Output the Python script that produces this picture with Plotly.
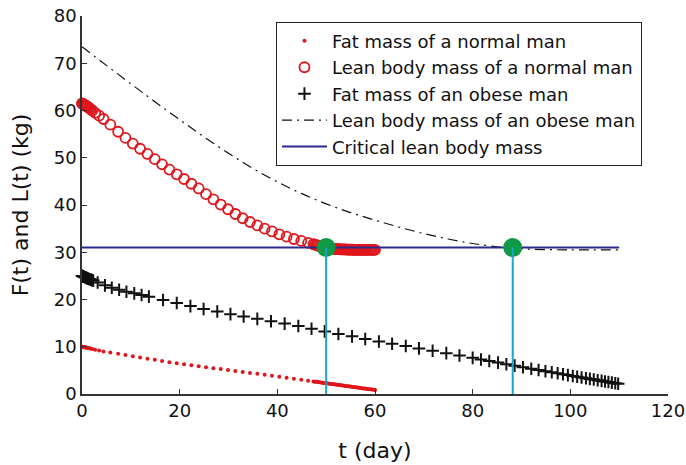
import plotly.graph_objects as go

# time grid (days) of the normal man's solution
T_N = [0, 0.1, 0.2, 0.3, 0.4, 0.5, 0.65, 0.8, 0.95, 1.1, 1.3, 1.5, 1.75, 2.1, 2.7,
       3.5, 4.4, 5.8,
       7.4, 8.9, 10.4, 11.9, 13.4, 14.9, 16.4, 17.9, 19.4, 20.9, 22.4, 23.9, 25.4,
       26.9, 28.4, 29.9, 31.4, 32.9, 34.4, 35.9, 37.4, 38.9, 40.4, 41.9, 43.4, 44.9,
       46.3,
       47.4, 47.7, 48.0, 48.3, 48.6, 48.9, 49.2, 49.5, 49.8, 50.1, 50.4, 50.7, 51.0,
       51.3, 51.6, 51.9, 52.2, 52.5, 52.8, 53.1, 53.4, 53.7, 54.0, 54.3, 54.6, 54.9,
       55.2, 55.5, 55.8, 56.1, 56.4, 56.7, 57.0, 57.3, 57.6, 57.9, 58.2, 58.5, 58.8,
       59.1, 59.4, 59.7, 60.0]
F_N = [10.0, 9.98, 9.96, 9.94, 9.92, 9.9, 9.87, 9.84, 9.81, 9.78, 9.74, 9.7, 9.65,
       9.5, 9.36, 9.18, 9.02, 8.78,
       8.5, 8.24, 7.98, 7.73, 7.48, 7.23, 6.98, 6.74, 6.5, 6.28, 6.07, 5.87, 5.67,
       5.47, 5.27, 5.07, 4.87, 4.67, 4.47, 4.27, 4.06, 3.85, 3.64, 3.43, 3.22, 3.01,
       2.81,
       2.65, 2.61, 2.57, 2.52, 2.48, 2.44, 2.39, 2.35, 2.31, 2.27, 2.22, 2.18, 2.14,
       2.09, 2.05, 2.01, 1.96, 1.92, 1.88, 1.84, 1.79, 1.75, 1.71, 1.66, 1.62, 1.58,
       1.53, 1.49, 1.45, 1.41, 1.36, 1.32, 1.28, 1.23, 1.19, 1.15, 1.1, 1.06, 1.02,
       0.98, 0.93, 0.89, 0.85]
L_N = [61.5, 61.45, 61.4, 61.3, 61.25, 61.2, 61.1, 61.0, 60.9, 60.8, 60.65, 60.5,
       60.3, 60.0, 59.5, 58.9, 58.2, 57.0,
       55.5, 54.2, 53.0, 51.9, 50.8, 49.7, 48.6, 47.5, 46.5, 45.5, 44.5, 43.5, 42.3,
       41.2, 40.1, 39.1, 38.1, 37.2, 36.4, 35.7, 35.0, 34.4, 33.8, 33.3, 32.8, 32.4,
       32.0,
       31.7, 31.6, 31.5, 31.4, 31.3, 31.2, 31.1, 31.0, 30.95, 30.9, 30.85, 30.8, 30.78,
       30.75, 30.72, 30.7, 30.68, 30.66, 30.64, 30.62, 30.6, 30.6, 30.58, 30.57, 30.56,
       30.55, 30.54, 30.53, 30.52, 30.52, 30.51, 30.51, 30.5, 30.5, 30.5, 30.5, 30.5,
       30.5, 30.5, 30.5, 30.5, 30.5, 30.5]

# time grid (days) of the obese man's fat mass
T_O = [0, 0.1, 0.2, 0.3, 0.45, 0.6, 0.75, 0.9, 1.05, 1.2, 1.4, 1.6, 1.8, 2.05, 2.3,
       3.2, 4.7, 6.1, 7.6, 9.1, 10.7,
       12.2, 13.7, 16.6, 19.4, 22.2, 24.9, 27.7, 30.4, 33.1, 35.9, 38.7, 41.5, 44.3,
       47.0, 49.7, 52.5, 55.3, 58.0, 60.8, 63.5, 66.3, 69.0, 71.8, 74.6, 77.3, 80.0,
       81.7, 83.4, 85.2, 86.9, 88.6, 90.3, 92.0, 93.5, 94.9, 96.2, 97.4, 98.5, 99.5,
       100.5, 101.4, 102.3, 103.2, 104.0, 104.8, 105.6, 106.4, 107.1, 107.8, 108.5,
       109.2, 109.8]
F_O = [25.0, 24.95, 24.9, 24.85, 24.8, 24.72, 24.65, 24.58, 24.5, 24.43, 24.35, 24.27,
       24.2, 24.1, 24.0, 23.6, 23.0, 22.5, 22.05, 21.65, 21.3,
       20.95, 20.6, 19.9, 19.25, 18.6, 18.0, 17.45, 16.9, 16.4,
       15.9, 15.4, 14.9, 14.4, 13.8, 13.25, 12.7, 12.2, 11.65, 11.1, 10.65, 10.15,
       9.65, 9.15, 8.65, 8.15, 7.65, 7.3, 7.0, 6.65, 6.3, 6.0, 5.65, 5.35, 5.08, 4.83,
       4.6, 4.38, 4.18, 4.0, 3.82, 3.66, 3.5, 3.34, 3.2, 3.06, 2.92, 2.78, 2.65, 2.53,
       2.4, 2.28, 2.17]

# lean body mass of the obese man
T_LO = [0, 5, 10, 15, 20, 25, 30, 35, 40, 45, 50, 55, 60, 65, 70, 75, 80, 85, 88,
        92, 100, 110]
L_O = [73.5, 69.55, 65.65, 61.8, 58.05, 54.4, 50.95, 47.75, 44.9, 42.4, 40.25, 38.4,
       36.8, 35.3, 33.95, 32.8, 31.85, 31.15, 30.85, 30.65, 30.5, 30.5]

# critical lean body mass and the days it is reached
CRIT_T = [0, 110]
CRIT_L = [31.0, 31.0]
HIT_T = [50.0, 88.2]
HIT_L = [31.0, 31.0]

X_TICKS = [0, 20, 40, 60, 80, 100, 120]
Y_TICKS = [0, 10, 20, 30, 40, 50, 60, 70, 80]

RED = "#e0161c"
FONT = "DejaVu Sans, Liberation Sans, Arial, sans-serif"

fig = go.Figure()
fig.add_trace(go.Scatter(x=T_N, y=F_N, mode="markers", name="Fat mass of a normal man",
                         marker=dict(color=RED, size=4, symbol="circle"),
                         cliponaxis=False))
fig.add_trace(go.Scatter(x=T_N, y=L_N, mode="markers",
                         name="Lean body mass of a normal man",
                         marker=dict(color="rgba(0,0,0,0)", size=10, symbol="circle",
                                     line=dict(color=RED, width=1.8)),
                         cliponaxis=False))
fig.add_trace(go.Scatter(x=T_O, y=F_O, mode="markers", name="Fat mass of an obese man",
                         marker=dict(color="#111111", size=9, symbol="cross-thin",
                                     line=dict(color="#111111", width=2)),
                         cliponaxis=False))
fig.add_trace(go.Scatter(x=T_LO, y=L_O, mode="lines",
                         name="Lean body mass of an obese man",
                         line=dict(color="#111111", width=1.2, dash="10px,5px,2px,5px",
                                   shape="spline")))
fig.add_trace(go.Scatter(x=CRIT_T, y=CRIT_L, mode="lines",
                         name="Critical lean body mass",
                         line=dict(color="#2b2b8c", width=2)))
fig.add_trace(go.Scatter(x=HIT_T, y=HIT_L, mode="markers", showlegend=False,
                         marker=dict(color="#109a48", size=19, symbol="circle")))
for t, l in zip(HIT_T, HIT_L):
    fig.add_trace(go.Scatter(x=[t, t], y=[0, l], mode="lines", showlegend=False,
                             line=dict(color="#1ba3cc", width=2)))

fig.update_layout(
    width=686, height=465,
    margin=dict(l=82, r=18, t=16, b=71),
    paper_bgcolor="white", plot_bgcolor="white",
    font=dict(family=FONT, size=18, color="#111111"),
    legend=dict(x=0.331, y=0.985, xanchor="left", yanchor="top",
                bordercolor="#222222", borderwidth=1, bgcolor="white",
                font=dict(size=18), itemwidth=45, tracegroupgap=0),
    xaxis=dict(range=[0, 120], tickvals=X_TICKS, ticks="inside", ticklen=5,
               showline=True, linecolor="#333333", linewidth=1.5, tickcolor="#333333",
               showgrid=False, zeroline=False, automargin=False,
               title=dict(text="t (day)", standoff=22)),
    yaxis=dict(range=[0, 80], tickvals=Y_TICKS, ticks="inside", ticklen=5,
               showline=True, linecolor="#333333", linewidth=1.5, tickcolor="#333333",
               showgrid=False, zeroline=False, automargin=False,
               title=dict(text="F(t) and L(t) (kg)", standoff=19)),
)

fig.write_html("out.html", config={"displayModeBar": False},
               post_script="document.body.style.margin='0px';")
